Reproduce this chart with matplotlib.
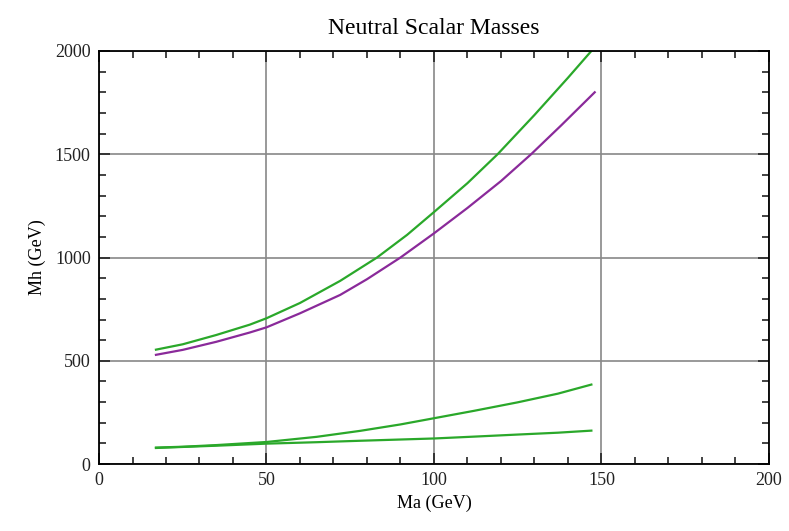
import matplotlib.pyplot as plt
from matplotlib.ticker import MultipleLocator

plt.rcParams['font.family'] = ['Liberation Serif', 'DejaVu Serif']

# masses (GeV)
ma_heavy = [17, 25, 35, 45, 50, 60, 72, 83, 92, 100, 110, 119, 130, 140, 147]
mh_heavy_green = [554, 580, 625, 675, 706, 780, 887, 1000, 1110, 1220,
                  1360, 1500, 1690, 1870, 2000]

ma_purple = [17, 25, 35, 45, 50, 60, 72, 80, 90, 100, 110, 120, 129, 138, 148]
mh_purple = [529, 553, 592, 637, 662, 730, 819, 895, 1000, 1117,
             1240, 1370, 1500, 1640, 1800]

ma_light = [17, 25, 35, 50, 65, 78, 90, 100, 112, 125, 137, 147]
mh_light_steep = [80, 84, 92, 107, 132, 161, 192, 222, 258, 299, 341, 385]
mh_light_flat = [78, 83, 89, 99, 106, 113, 119, 124, 133, 143, 152, 162]

green = '#2aa82a'
purple = '#8a2a9a'

fig = plt.figure(figsize=(7.89, 5.31), dpi=100)
ax = fig.add_axes([0.1255, 0.126, 0.849, 0.778])

ax.plot(ma_heavy, mh_heavy_green, color=green, lw=1.6)
ax.plot(ma_purple, mh_purple, color=purple, lw=1.6)
ax.plot(ma_light, mh_light_steep, color=green, lw=1.6)
ax.plot(ma_light, mh_light_flat, color=green, lw=1.6)

ax.set_xlim(0, 200)
ax.set_ylim(0, 2000)
ax.xaxis.set_major_locator(MultipleLocator(50))
ax.xaxis.set_minor_locator(MultipleLocator(10))
ax.yaxis.set_major_locator(MultipleLocator(500))
ax.yaxis.set_minor_locator(MultipleLocator(100))
ax.tick_params(which='both', direction='in', top=True, right=True,
               width=1.2, labelsize=13, colors='#222222')
ax.tick_params(which='major', length=8, pad=6)
ax.tick_params(which='minor', length=5)
ax.grid(True, which='major', color='#888888', lw=1.2)
for s in ax.spines.values():
    s.set_linewidth(1.3)

ax.set_title('Neutral Scalar Masses', fontsize=17, pad=12)
ax.set_xlabel('Ma (GeV)', fontsize=13, labelpad=4)
ax.set_ylabel('Mh (GeV)', fontsize=13, labelpad=6)

fig.savefig('out.png', dpi=100)
